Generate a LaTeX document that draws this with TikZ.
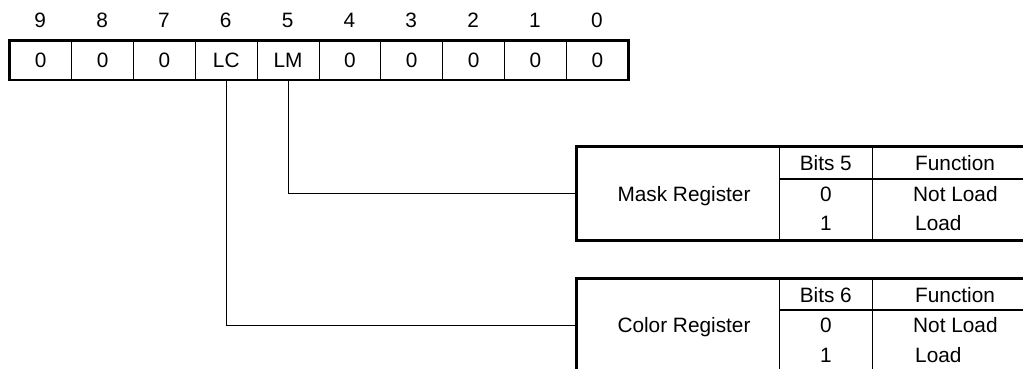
\documentclass[tikz,border=0pt]{standalone}
\usepackage{fontspec}
\setmainfont{Liberation Sans}
\begin{document}
\begin{tikzpicture}[x=1pt,y=-1pt,
  font=\fontsize{20.8}{25}\selectfont,
  txt/.style={inner sep=0pt, text height=14.9pt, text depth=0pt},
  cell/.style={txt, draw, line width=1pt, minimum width=61.84pt, minimum height=38.3pt, anchor=north west},
  outer/.style={line width=2.7pt},
  thin/.style={line width=1pt},
  sep/.style={line width=2.2pt},
  conn/.style={line width=1pt}]
\useasboundingbox (0,0) rectangle (1023,368);
% register
\foreach \v [count=\k from 0] in {0,0,0,LC,LM,0,0,0,0,0} {
  \node[cell] (c\k) at ({9.3+61.84*\k},40.7) {\v};
  \pgfmathtruncatemacro\b{9-\k}
  \node[txt] (h\k) at ({9.3+61.84*(\k+0.5)},20) {\b};
}
\draw[outer] (c0.north west) rectangle (c9.south east);
% tables
\foreach \n/\T/\l/\b in {mask/146.7/Mask Register/5, color/278.3/Color Register/6} {
  \coordinate (\n) at (576.7,\T+47);
  \draw[thin] (779.3,\T) -- (779.3,\T+94) (872.3,\T) -- (872.3,\T+94);
  \draw[sep] (779.3,\T+32) -- (1030,\T+32);
  \draw[outer] (1030,\T) -| (576.7,\T+94) -- (1030,\T+94);
  \node[txt] (\n name) at (684,\T+47) {\l};
  \node[txt] (\n bits) at (825.8,\T+16.5) {Bits \b};
  \node[txt, anchor=west] (\n func) at (915,\T+16.5) {Function};
  \node[txt] (\n zero) at (825.8,\T+47) {0};
  \node[txt, anchor=west] (\n nl) at (913,\T+47) {Not Load};
  \node[txt] (\n one) at (825.8,\T+76.5) {1};
  \node[txt, anchor=west] (\n ld) at (915,\T+76.5) {Load};
}
% connectors
\draw[conn] (c4.south) |- (mask);
\draw[conn] (c3.south) |- (color);
\end{tikzpicture}
\end{document}
